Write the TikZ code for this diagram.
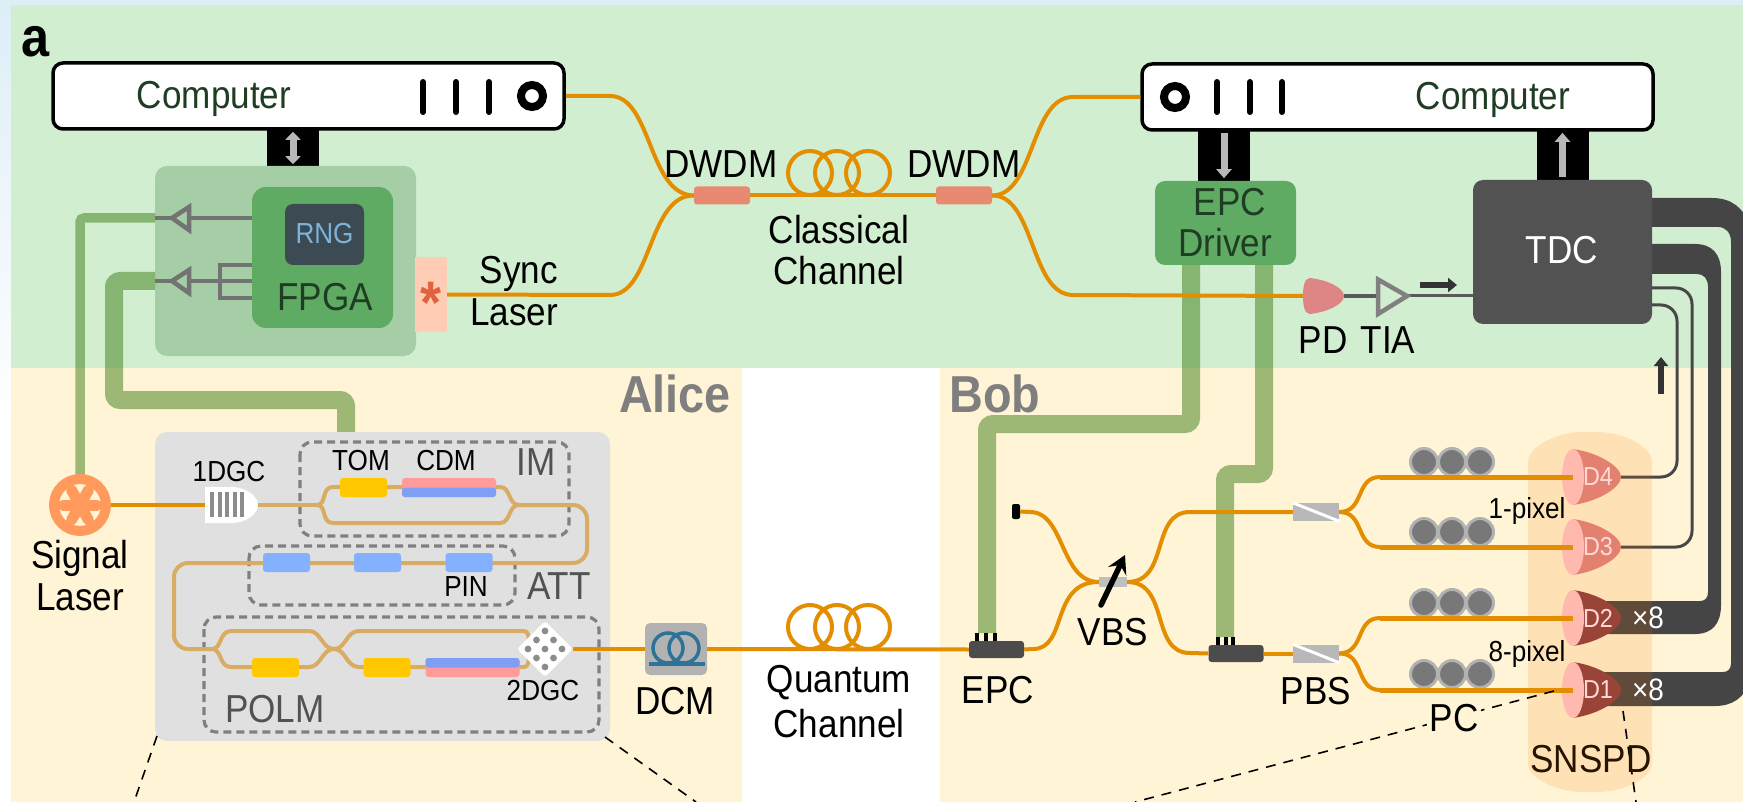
\documentclass[tikz,border=0pt]{standalone}
\usepackage{fontspec}
\setmainfont[FakeStretch=0.9]{Liberation Sans}
\usetikzlibrary{arrows.meta,shapes.geometric}
\definecolor{pagetint}{HTML}{DDEEF7}
\definecolor{classicbg}{HTML}{D2EED1}
\definecolor{quantumbg}{HTML}{FFF5D6}
\definecolor{fibercol}{HTML}{E38E00}
\definecolor{guidecol}{HTML}{D8AC62}
\definecolor{ctrlcol}{HTML}{3B7D14}
\definecolor{fpgaout}{HTML}{A5CEA6}
\definecolor{fpgain}{HTML}{60AB63}
\definecolor{rngcol}{HTML}{3B4A53}
\definecolor{rngtext}{HTML}{7FB2D8}
\definecolor{inktext}{HTML}{1F3D22}
\definecolor{labelgray}{HTML}{7F7F7F}
\definecolor{cablecol}{HTML}{454545}
\definecolor{tomcol}{HTML}{FFC800}
\definecolor{cdmpink}{HTML}{FF9B9B}
\definecolor{cdmblue}{HTML}{7F9FF5}
\definecolor{pincol}{HTML}{84B1FF}
\definecolor{coilblue}{HTML}{2E7397}
\definecolor{lasercol}{HTML}{FF9A5C}
\definecolor{synccol}{HTML}{FFCDB5}
\definecolor{starcol}{HTML}{E0623F}
\definecolor{dwdmcol}{HTML}{E88A72}
\definecolor{detbright}{HTML}{E38070}
\definecolor{detdark}{HTML}{9A4438}
\definecolor{lenscol}{HTML}{FFB9AE}
\definecolor{pdcol}{HTML}{DE8585}

\begin{document}
\begin{tikzpicture}[x=1pt, y=-1pt,
    every node/.style={font=\fontsize{39}{43}\selectfont, inner sep=0pt},
    smalltxt/.style={font=\fontsize{29}{33}\selectfont},
    grouptxt/.style={text=black!68},
    sidetxt/.style={font=\bfseries\fontsize{52}{56}\selectfont, text=labelgray},
    detxt/.style={text=white!85!red, font=\fontsize{26}{30}\selectfont},
    computer/.style={draw=black, line width=3.5pt, fill=white, rounded corners=10pt, minimum width=511pt, minimum height=66pt},
    link/.style={fill=black, minimum width=52pt},
    linkarrow/.style={draw=black!28, line width=7pt, shorten <=3pt, shorten >=3pt},
    ticks/.style={line width=6pt, line cap=round},
    ring/.style={line width=8pt},
    greenbox/.style={fill=fpgain, rounded corners=14pt, text=inktext},
    fiber/.style={draw=fibercol, line width=4pt},
    guide/.style={draw=guidecol, line width=4pt},
    ctrlthin/.style={draw=ctrlcol, opacity=.5, line width=9.5pt, rounded corners=4pt},
    ctrlthick/.style={draw=ctrlcol, opacity=.5, line width=18pt, rounded corners=6pt},
    drive/.style={draw=black!55, line width=4.5pt},
    groupbox/.style={draw=black!50, line width=3.2pt, dash pattern=on 8pt off 5pt, rounded corners=12pt},
    zoomline/.style={draw=black, line width=1.6pt, dash pattern=on 10pt off 8pt},
    wdm/.style={fill=#1, rounded corners=3pt, minimum height=18pt},
    ctrlunit/.style={fill=black!70, rounded corners=3pt, minimum width=55pt, minimum height=17pt},
    pinline/.style={draw=black, line width=3.6pt},
    splitter/.style={fill=black!28, minimum width=46pt, minimum height=18pt},
    pcloop/.style={circle, draw=black!30, fill=black!53, line width=3pt, minimum size=27pt},
    lens/.style={ellipse, fill=lenscol, minimum width=22pt, minimum height=56pt},
    wire/.style={draw=black!72, line width=3pt, rounded corners=16pt},
    smallarrow/.style={draw=black!80, line width=6pt, -{Triangle[length=9pt,width=14pt]}}
  ]
  \useasboundingbox (0,0) rectangle (1743,802);
  \clip (0,0) rectangle (1743,802);

  % page edge and the two regions
  \fill[pagetint] (0,0) rectangle (1743,5);
  \shade[top color=pagetint, bottom color=white] (0,0) rectangle (11,430);
  \fill[classicbg] (11,5) rectangle (1743,368);
  \fill[quantumbg] (11,368) rectangle (742,802);
  \fill[quantumbg] (940,368) rectangle (1743,802);

  \node[font=\bfseries\fontsize{56}{60}\selectfont] (panel) at (36,42) {a};
  \node[sidetxt] (alice) at (675,394) {Alice};
  \node[sidetxt] (bob) at (995,394) {Bob};

  % computers
  \node[computer] (compA) at (308.5,96) {};
  \node[text=inktext] (compAtxt) at (214,99) {Computer};
  \draw[ticks] (423,82) -- (423,112);
  \draw[ticks] (456,82) -- (456,112);
  \draw[ticks] (489,82) -- (489,112);
  \draw[ring] (532,96) circle [radius=11];

  \node[computer] (compB) at (1397.5,97) {};
  \node[text=inktext] (compBtxt) at (1493,100) {Computer};
  \draw[ring] (1175,97) circle [radius=11];
  \draw[ticks] (1217,82) -- (1217,112);
  \draw[ticks] (1250,82) -- (1250,112);
  \draw[ticks] (1282,82) -- (1282,112);

  % Alice electronics
  \node[link, minimum height=38pt] (linkA) at (293,148) {};
  \draw[linkarrow, {Triangle[length=8pt,width=15pt]}-{Triangle[length=8pt,width=15pt]}] (linkA.north) -- (linkA.south);
  \node[fill=fpgaout, rounded corners=12pt, minimum width=261pt, minimum height=190pt] (fpgaBack) at (285.5,261) {};
  \node[greenbox, minimum width=141pt, minimum height=141pt] (fpga) at (322.5,257.5) {};
  \node[fill=rngcol, rounded corners=8pt, minimum width=79pt, minimum height=61pt] (rng) at (324.5,234.5) {};
  \node[text=rngtext, font=\fontsize{29}{33}\selectfont] (rngtxt) at (324.5,234) {RNG};
  \node[text=inktext] (fpgatxt) at (325,297) {FPGA};

  % drivers out of the FPGA
  \coordinate (fpgaUp) at (252,218);
  \coordinate (fpgaLow) at (252,281);
  \coordinate (outUp) at (155,218);
  \coordinate (outLow) at (155,281);
  \draw[drive] (fpgaUp) -- (outUp);
  \draw[drive, fill=fpgaout] (189,207) -- (172,218) -- (189,230) -- cycle;
  \draw[drive] (fpgaLow) -- (outLow);
  \draw[drive, fill=fpgaout] (189,270) -- (172,281) -- (189,293) -- cycle;
  \draw[drive] (252,265) -- (220,265) -- (220,298) -- (252,298);

  % sync laser
  \node[fill=synccol, minimum width=32pt, minimum height=75pt] (syncLaser) at (431,294.5) {};
  \node[text=starcol, font=\bfseries\fontsize{60}{60}\selectfont] (syncStar) at (431,303) {*};
  \node (synctxt) at (519,274) {Sync};
  \node (lasertxt) at (514,312) {Laser};

  % control lines
  \coordinate (laserTop) at (80,480);
  \coordinate (imTop) at (346,432);
  \draw[ctrlthin] (outUp) -- (80,218) -- (laserTop);
  \draw[ctrlthick] (outLow) -- (114,281) -- (114,400) -- (346,400) -- (imTop);

  % Alice chip
  \fill[black!12, rounded corners=12pt] (155,432) rectangle (610,741);
  \draw[groupbox] (300,442) rectangle (569,536);
  \draw[groupbox] (249,546) rectangle (515,605);
  \draw[groupbox] (204,617) rectangle (599,732);

  % signal laser
  \node[circle, draw=lasercol, fill=quantumbg, line width=10pt, minimum size=52pt] (sigLaser) at (80,505) {};
  \draw[draw=lasercol, line width=11pt, line cap=round] (63,505) -- (97,505);
  \draw[draw=lasercol, line width=11pt, line cap=round] (71.5,490) -- (88.5,520);
  \draw[draw=lasercol, line width=11pt, line cap=round] (88.5,490) -- (71.5,520);
  \node (signaltxt) at (80,558) {Signal};
  \node (signaltxtb) at (80,597) {Laser};

  % 1D grating coupler
  \fill[white] (205,487) -- (230,487) .. controls (248,487) and (258,497) .. (258,505) .. controls (258,513) and (248,523) .. (230,523) -- (205,523) -- cycle;
  \coordinate (gcIn) at (205,505);
  \coordinate (gcOut) at (258,505);
  \draw[fiber] (sigLaser.east) -- (gcIn);
  \draw[line width=4pt, black!45] (212,492) -- (212,517);
  \draw[line width=4pt, black!45] (220,492) -- (220,517);
  \draw[line width=4pt, black!45] (227,492) -- (227,517);
  \draw[line width=4pt, black!45] (235,492) -- (235,517);
  \draw[line width=4pt, black!45] (242,492) -- (242,517);
  \node[smalltxt] (gcAtxt) at (229,472) {1DGC};

  % waveguides of the chip
  \coordinate (imIn) at (317,505);
  \coordinate (imOut) at (519,505);
  \coordinate (polmIn) at (212,649);
  \coordinate (polmMid) at (334,649);
  \coordinate (gcBin) at (528,649);
  \draw[guide] (gcOut) -- (imIn);
  \draw[guide] (imIn) .. controls (327,505) and (321,487) .. (333,487) -- (500,487) .. controls (511,487) and (508,505) .. (imOut);
  \draw[guide] (imIn) .. controls (327,505) and (321,523) .. (333,523) -- (500,523) .. controls (511,523) and (508,505) .. (imOut);
  \draw[guide, rounded corners=14pt] (imOut) -- (587,505) -- (587,563) -- (174,563) -- (174,649) -- (polmIn);
  \draw[guide] (polmIn) .. controls (222,649) and (219,631) .. (231,631) -- (309,631) .. controls (321,631) and (322,649) .. (polmMid);
  \draw[guide] (polmIn) .. controls (222,649) and (219,667) .. (231,667) -- (309,667) .. controls (321,667) and (322,649) .. (polmMid);
  \draw[guide] (polmMid) .. controls (346,649) and (346,631) .. (359,631) -- (524,631) .. controls (528,631) and (530,636) .. (gcBin);
  \draw[guide] (polmMid) .. controls (346,649) and (346,667) .. (359,667) -- (524,667) .. controls (528,667) and (530,662) .. (gcBin);

  % modulators
  \node[wdm=tomcol, minimum width=47pt, minimum height=19pt] (tomA) at (363.5,487.5) {};
  \node[wdm=cdmpink, minimum width=94pt, minimum height=19pt] (cdmA) at (449,487.5) {};
  \fill[cdmblue, rounded corners=3pt] (402,487.5) rectangle (496,497);
  \node[smalltxt] (tomtxt) at (361,461) {TOM};
  \node[smalltxt] (cdmtxt) at (446,461) {CDM};
  \node[grouptxt] (imtxt) at (536,462) {IM};

  \node[wdm=pincol, minimum width=47pt, minimum height=19pt] (pinA) at (286.5,562.5) {};
  \node[wdm=pincol, minimum width=47pt, minimum height=19pt] (pinB) at (377.5,562.5) {};
  \node[wdm=pincol, minimum width=47pt, minimum height=19pt] (pinC) at (469,562.5) {};
  \node[smalltxt] (pintxt) at (466,587) {PIN};
  \node[grouptxt] (atttxt) at (559,586) {ATT};

  \node[wdm=tomcol, minimum width=47pt, minimum height=19pt] (tomB) at (275.5,667.5) {};
  \node[wdm=tomcol, minimum width=47pt, minimum height=19pt] (tomC) at (387,667.5) {};
  \node[wdm=cdmpink, minimum width=94pt, minimum height=19pt] (cdmB) at (472.5,667.5) {};
  \fill[cdmblue, rounded corners=3pt] (425.5,658) rectangle (519.5,667.5);
  \node[grouptxt] (polmtxt) at (275,709) {POLM};

  % 2D grating coupler
  \node[diamond, fill=white, minimum size=56pt, rounded corners=3pt] (gcB) at (545,649) {};
  \fill[black!45] (545,631) circle [radius=3.4];
  \fill[black!45] (536.5,640) circle [radius=3.4];
  \fill[black!45] (553.5,640) circle [radius=3.4];
  \fill[black!45] (528,649) circle [radius=3.4];
  \fill[black!45] (545,649) circle [radius=3.4];
  \fill[black!45] (562,649) circle [radius=3.4];
  \fill[black!45] (536.5,658) circle [radius=3.4];
  \fill[black!45] (553.5,658) circle [radius=3.4];
  \fill[black!45] (545,667) circle [radius=3.4];
  \node[smalltxt] (gcBtxt) at (543,691) {2DGC};

  % dispersion module and quantum channel
  \node[fill=black!30, rounded corners=5pt, minimum width=62pt, minimum height=52pt] (dcm) at (676,649) {};
  \draw[fiber] (gcB.east) -- (dcm.west);
  \draw[draw=coilblue, line width=3.5pt] (668,648) circle [radius=15];
  \draw[draw=coilblue, line width=3.5pt] (684,648) circle [radius=15];
  \draw[draw=coilblue, line width=4pt] (649,664) -- (705,664);
  \node (dcmtxt) at (675,701) {DCM};
  \draw[fiber] (810,627) circle [radius=22];
  \draw[fiber] (837,627) circle [radius=22];
  \draw[fiber] (868,627) circle [radius=22];
  \node (quantxt) at (839,683) {Quantum};
  \node (quantxtb) at (839,724) {Channel};

  % classical channel
  \node[wdm=dwdmcol, minimum width=56pt] (dwdmA) at (722,195.5) {};
  \node[wdm=dwdmcol, minimum width=56pt] (dwdmB) at (964,195.5) {};
  \draw[fiber] (810,173) circle [radius=22];
  \draw[fiber] (837,173) circle [radius=22];
  \draw[fiber] (868,173) circle [radius=22];
  \draw[fiber] (dwdmA.east) -- (dwdmB.west);
  \draw[fiber] (compA.east) -- (610,96) .. controls (652,96) and (648,195) .. (dwdmA.west);
  \draw[fiber] (syncLaser.east) -- (610,295) .. controls (652,295) and (648,195) .. (dwdmA.west);
  \node (dwdmAtxt) at (721,164) {DWDM};
  \node (dwdmBtxt) at (964,164) {DWDM};
  \node (classtxt) at (839,230) {Classical};
  \node (classtxtb) at (839,271) {Channel};

  % Bob electronics
  \node[link, minimum height=51pt] (linkB) at (1224,155.5) {};
  \draw[linkarrow, -{Triangle[length=9pt,width=15pt]}] (linkB.north) -- (linkB.south);
  \node[link, minimum height=50pt] (linkC) at (1562.5,155) {};
  \draw[linkarrow, -{Triangle[length=9pt,width=15pt]}] (linkC.south) -- (linkC.north);
  \node[greenbox, rounded corners=10pt, minimum width=141pt, minimum height=84pt] (epcDrv) at (1225.5,223) {};
  \node[text=inktext] (epcDrvtxt) at (1230,202) {EPC};
  \node[text=inktext] (epcDrvtxtb) at (1225,243) {Driver};

  % polarization control units with control lines
  \node[ctrlunit] (epcA) at (996.5,649.5) {};
  \node[ctrlunit] (epcB) at (1236,653.5) {};
  \coordinate (drvA) at (1191,265);
  \coordinate (drvB) at (1264,265);
  \draw[ctrlthick] (drvA) -- (1191,424) -- (987,424) -- (987,633);
  \draw[ctrlthick] (drvB) -- (1264,474) -- (1225,474) -- (1225,637);
  \draw[pinline] (977,641) -- (977,633);
  \draw[pinline] (986,641) -- (986,633);
  \draw[pinline] (995,641) -- (995,633);
  \draw[pinline] (1218,645) -- (1218,637);
  \draw[pinline] (1226,645) -- (1226,637);
  \draw[pinline] (1233,645) -- (1233,637);
  \node (epctxt) at (998,690) {EPC};

  % TDC cables
  \fill[cablecol] (1640,244) -- (1695,244) .. controls (1712,244) and (1721,254) .. (1721,272) -- (1721,605) .. controls (1721,624) and (1712,634) .. (1695,634) -- (1600,634) -- (1600,601) -- (1700,601) .. controls (1705,601) and (1708,598) .. (1708,592) -- (1708,287) .. controls (1708,279) and (1704,274) .. (1697,274) -- (1640,274) -- cycle;
  \fill[cablecol] (1640,198) -- (1712,198) .. controls (1732,198) and (1743,208) .. (1750,225) -- (1750,680) .. controls (1745,698) and (1732,706) .. (1715,706) -- (1600,706) -- (1600,672) -- (1723,672) .. controls (1728,672) and (1731,669) .. (1731,663) -- (1731,242) .. controls (1731,233) and (1726,227) .. (1718,227) -- (1640,227) -- cycle;

  % detector outlines
  \coordinate (tipFour) at (1621,477);
  \coordinate (tipThree) at (1621,547);
  \coordinate (tdcUp) at (1652,288);
  \coordinate (tdcLow) at (1652,305);
  \draw[wire] (tdcUp) -- (1692,288) -- (1692,547) -- (tipThree);
  \draw[wire] (tdcLow) -- (1677,305) -- (1677,477) -- (tipFour);
  \fill[orange!90!red, opacity=.15, rounded corners=8pt] (1528,470) .. controls (1528,445) and (1560,432) .. (1590,432) .. controls (1620,432) and (1652,445) .. (1652,470) -- (1652,755) .. controls (1652,780) and (1620,792) .. (1590,792) .. controls (1560,792) and (1528,780) .. (1528,755) -- cycle;
  \node[text=white, font=\fontsize{31}{35}\selectfont] (eightA) at (1648,618) {×8};
  \node[text=white, font=\fontsize{31}{35}\selectfont] (eightB) at (1648,690) {×8};

  % TDC
  \node[fill=black!68, rounded corners=10pt, minimum width=179pt, minimum height=144pt] (tdc) at (1562.5,252) {};
  \node[text=white] (tdctxt) at (1562,250) {TDC};

  % detectors
  \fill[detbright] (1573,449) .. controls (1600,453) and (1621,467) .. (1621,477) .. controls (1621,487) and (1600,501) .. (1573,505) -- cycle;
  \fill[detbright] (1573,519) .. controls (1600,523) and (1621,537) .. (1621,547) .. controls (1621,557) and (1600,571) .. (1573,575) -- cycle;
  \fill[detdark] (1573,590) .. controls (1600,594) and (1621,608) .. (1621,618) .. controls (1621,628) and (1600,642) .. (1573,646) -- cycle;
  \fill[detdark] (1573,662) .. controls (1600,666) and (1621,680) .. (1621,690) .. controls (1621,700) and (1600,714) .. (1573,718) -- cycle;
  \node[lens] (detFour) at (1573,477) {};
  \node[lens] (detThree) at (1573,547) {};
  \node[lens] (detTwo) at (1573,618) {};
  \node[lens] (detOne) at (1573,690) {};
  \node[detxt] (detFourtxt) at (1598,477) {D4};
  \node[detxt] (detThreetxt) at (1598,547) {D3};
  \node[detxt] (detTwotxt) at (1598,618) {D2};
  \node[detxt] (detOnetxt) at (1598,690) {D1};

  % Bob optics
  \node[fill=black, rounded corners=2pt, minimum width=8pt, minimum height=15pt] (term) at (1016,511.5) {};
  \node[fill=black!25, minimum width=28pt, minimum height=10pt] (vbs) at (1113,582) {};
  \node[splitter] (pbsA) at (1316,512) {};
  \node[splitter] (pbsB) at (1316,653.5) {};
  \draw[white, line width=3pt] (pbsA.north west) -- (pbsA.south east);
  \draw[white, line width=3pt] (pbsB.north west) -- (pbsB.south east);
  \draw[fiber] (dcm.east) -- (epcA.west);
  \draw[fiber] (epcA.east) -- (1033,649) .. controls (1068,649) and (1050,582) .. (vbs.west);
  \draw[fiber] (term.east) -- (1030,512) .. controls (1065,512) and (1060,582) .. (vbs.west);
  \draw[fiber] (vbs.east) .. controls (1170,582) and (1150,512) .. (1190,512) -- (pbsA.west);
  \draw[fiber] (vbs.east) .. controls (1170,582) and (1150,653) .. (1190,653) -- (epcB.west);
  \draw[fiber] (epcB.east) -- (pbsB.west);
  \draw[fiber] (pbsA.east) .. controls (1365,512) and (1355,477) .. (1380,477);
  \draw[fiber] (pbsA.east) .. controls (1365,512) and (1355,547) .. (1380,547);
  \draw[fiber] (pbsB.east) .. controls (1365,653) and (1355,618) .. (1380,618);
  \draw[fiber] (pbsB.east) .. controls (1365,653) and (1355,690) .. (1380,690);
  \node[pcloop] (pcAa) at (1424,462) {};
  \node[pcloop] (pcAb) at (1452,462) {};
  \node[pcloop] (pcAc) at (1480,462) {};
  \node[pcloop] (pcBa) at (1424,532) {};
  \node[pcloop] (pcBb) at (1452,532) {};
  \node[pcloop] (pcBc) at (1480,532) {};
  \node[pcloop] (pcCa) at (1424,603) {};
  \node[pcloop] (pcCb) at (1452,603) {};
  \node[pcloop] (pcCc) at (1480,603) {};
  \node[pcloop] (pcDa) at (1424,674) {};
  \node[pcloop] (pcDb) at (1452,674) {};
  \node[pcloop] (pcDc) at (1480,674) {};
  \coordinate (bendA) at (1380,477);
  \coordinate (bendB) at (1380,547);
  \coordinate (bendC) at (1380,618);
  \coordinate (bendD) at (1380,690);
  \draw[fiber, line width=5pt] (bendA) -- (detFour.center);
  \draw[fiber, line width=5pt] (bendB) -- (detThree.center);
  \draw[fiber, line width=5pt] (bendC) -- (detTwo.center);
  \draw[fiber, line width=5pt] (bendD) -- (detOne.center);
  \draw[line width=5.5pt, line cap=round, -{Stealth[length=18pt,width=20pt,inset=7pt]}] (1101,605) -- (1125,555);
  \node (vbstxt) at (1113,632) {VBS};
  \node (pbstxt) at (1316,691) {PBS};

  % right channel of the classical link
  \draw[fiber] (dwdmB.east) .. controls (1035,195) and (1030,97) .. (1073,97) -- (compB.west);
  \coordinate (pdIn) at (1303,296);
  \coordinate (pdOut) at (1344,296);
  \coordinate (tiaIn) at (1378,296);
  \coordinate (tiaOut) at (1407,296);
  \draw[fiber] (dwdmB.east) .. controls (1035,195) and (1030,295) .. (1073,295) -- (pdIn);
  \fill[pdcol] (1310,278) .. controls (1328,280) and (1344,288) .. (pdOut) .. controls (1344,304) and (1328,312) .. (1310,314) .. controls (1304,314) and (1303,304) .. (pdIn) .. controls (1303,288) and (1304,278) .. (1310,278) -- cycle;
  \draw[draw=black!65, line width=3.5pt] (pdOut) -- (tiaIn);
  \draw[draw=black!65, line width=3pt] (tiaOut) -- (tdc.west |- tiaOut);
  \draw[draw=black!50, line width=4.5pt] (1378,279.5) -- (tiaOut) -- (1378,314) -- cycle;
  \draw[smallarrow] (1420,285) -- (1457,285);
  \draw[smallarrow] (1661,394) -- (1661,357);
  \node (pdtxt) at (1323,340) {PD};
  \node (tiatxt) at (1388,340) {TIA};

  % zoom lines
  \draw[zoomline] (157,736) -- (134,802);
  \draw[zoomline] (605,737) -- (696,802);
  \draw[zoomline] (1554,691) -- (1135,802);
  \draw[zoomline] (1623,711) -- (1636,802);

  % labels over the detectors
  \node[smalltxt] (onepx) at (1527,511) {1-pixel};
  \node[smalltxt] (eightpx) at (1527,654) {8-pixel};
  \node[fill=quantumbg, inner xsep=3pt, inner ysep=2pt] (pctxt) at (1454,718) {PC};
  \node[text=black!85!orange] (snspdtxt) at (1591,759) {SNSPD};
\end{tikzpicture}
\end{document}
